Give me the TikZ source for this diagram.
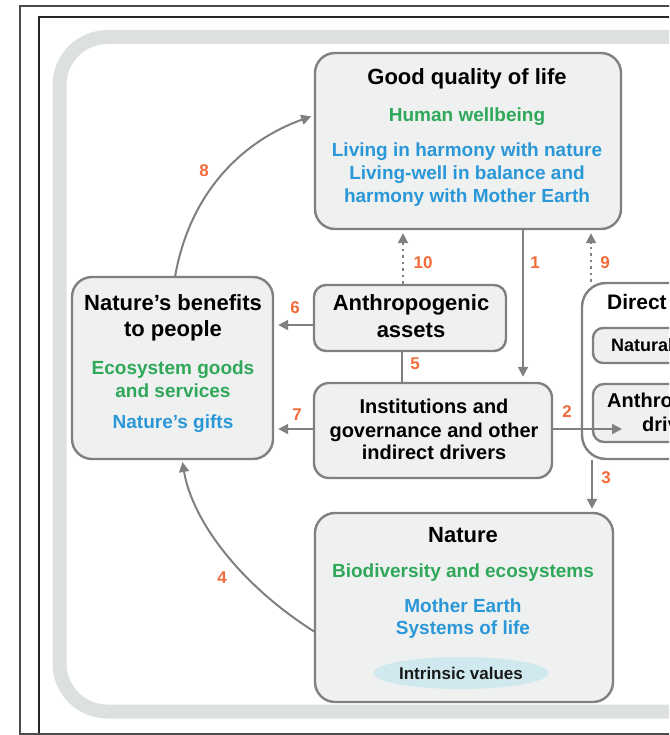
\documentclass[tikz,border=0pt]{standalone}
\usepackage{fontspec}
\setmainfont{Liberation Sans}
\usetikzlibrary{arrows.meta,shapes.geometric}
\definecolor{boxfill}{HTML}{EFF0F0}
\definecolor{boxline}{HTML}{808080}
\definecolor{bandc}{HTML}{DDE0E1}
\definecolor{numc}{HTML}{F26B3A}
\definecolor{greenc}{HTML}{2FA85A}
\definecolor{bluec}{HTML}{2A98D8}
\definecolor{ellc}{HTML}{CFE9EE}
\definecolor{framec}{HTML}{4A4A4A}
\begin{document}
\begin{tikzpicture}[x=1pt,y=-1pt,
  box/.style={draw=boxline, line width=2.4pt, fill=boxfill, inner sep=0pt},
  ttl/.style={font=\fontsize{22}{26}\selectfont\bfseries, text=black, anchor=base, inner sep=0pt},
  grn/.style={font=\fontsize{19}{23}\selectfont\bfseries, text=greenc, anchor=base, inner sep=0pt},
  blu/.style={font=\fontsize{19}{23}\selectfont\bfseries, text=bluec, anchor=base, inner sep=0pt},
  num/.style={font=\fontsize{17}{20}\selectfont\bfseries, text=numc, inner sep=0pt},
  arr/.style={draw=boxline, line width=2pt, -{Triangle[length=10pt,width=10pt]}},
  dotarr/.style={arr, dash pattern=on 2.5pt off 4pt},
  conn/.style={draw=boxline, line width=2pt}]
\useasboundingbox (0,0) rectangle (669,735);
\clip (0,0) rectangle (669,735);
% frames
\draw[framec, line width=1.5pt] (20,740) -- (20,6) -- (700,6);
\draw[black!85, line width=2pt] (39,740) -- (39,17) -- (700,17);
\draw[framec, line width=1.5pt] (20,734) -- (700,734);
% band
\draw[bandc, line width=14pt, rounded corners=48pt] (59.5,37) rectangle (900,711.5);
% boxes
\node[box, rounded corners=20pt, minimum width=306pt, minimum height=176pt] (gq) at (468,141) {};
\node[box, rounded corners=20pt, minimum width=201pt, minimum height=182pt] (nb) at (172.5,368) {};
\node[box, rounded corners=12pt, minimum width=192pt, minimum height=66pt] (aa) at (410,318) {};
\node[box, rounded corners=15pt, minimum width=238pt, minimum height=95pt] (inst) at (433,430.5) {};
\node[box, rounded corners=20pt, minimum width=298pt, minimum height=189pt] (nat) at (464,607.5) {};
\node[box, fill=white, rounded corners=24pt, minimum width=218pt, minimum height=176pt] (dd) at (691,371) {};
\node[box, rounded corners=10pt, minimum width=187pt, minimum height=35pt] (natd) at (686.5,345.5) {};
\node[box, rounded corners=11pt, minimum width=187pt, minimum height=58pt] (anthd) at (686.5,413) {};
% texts: good quality of life
\node[ttl] (t1) at (467,85) {Good quality of life};
\node[grn] (t2) at (467,122) {Human wellbeing};
\node[blu] (t3) at (467,157) {Living in harmony with nature};
\node[blu] (t4) at (467,180) {Living-well in balance and};
\node[blu] (t5) at (467,203) {harmony with Mother Earth};
% nature's benefits
\node[ttl] (t6) at (173,310) {Nature’s benefits};
\node[ttl] (t7) at (173,336) {to people};
\node[grn] (t8) at (173,374) {Ecosystem goods};
\node[grn] (t9) at (173,397) {and services};
\node[blu] (t10) at (173,428) {Nature’s gifts};
% anthropogenic assets
\node[ttl] (t11) at (411,310) {Anthropogenic};
\node[ttl] (t12) at (411,337) {assets};
% institutions
\node[ttl, font=\fontsize{20}{24}\selectfont\bfseries] (t13) at (434,413) {Institutions and};
\node[ttl, font=\fontsize{20}{24}\selectfont\bfseries] (t14) at (434,437) {governance and other};
\node[ttl, font=\fontsize{20}{24}\selectfont\bfseries] (t15) at (434,459) {indirect drivers};
% nature
\node[ttl] (t16) at (463,542) {Nature};
\node[grn] (t17) at (463,577) {Biodiversity and ecosystems};
\node[blu] (t18) at (463,612) {Mother Earth};
\node[blu] (t19) at (463,634) {Systems of life};
\node[ellipse, fill=ellc, minimum width=172pt, minimum height=32pt, inner sep=0pt,
      font=\fontsize{17}{20}\selectfont\bfseries, text=black!90] (iv) at (461,673) {Intrinsic values};
% direct drivers (cut by the picture's right edge)
\node[ttl, anchor=base west, font=\fontsize{21}{25}\selectfont\bfseries] (t20) at (607,309) {Direct drivers};
\node[ttl, anchor=base west, font=\fontsize{18}{21}\selectfont\bfseries] (t21) at (611,351) {Natural drivers};
\node[ttl, anchor=base west, font=\fontsize{20}{24}\selectfont\bfseries] (t22) at (607,407) {Anthropogenic};
\node[ttl, anchor=base west, font=\fontsize{20}{24}\selectfont\bfseries] (t23) at (642,431) {drivers};
% connectors
\coordinate (x10) at (403,0);
\coordinate (x1) at (523,0);
\coordinate (x9) at (591,0);
\coordinate (x5) at (402,0);
\coordinate (x3) at (592,0);
\coordinate (y6) at (0,325);
\coordinate (y7) at (0,429);
\coordinate (e2) at (622,429);
\draw[dotarr, shorten >=3pt] (x10 |- aa.north) -- (x10 |- gq.south);
\draw[arr, shorten >=5pt] (x1 |- gq.south) -- (x1 |- inst.north);
\draw[dotarr, shorten >=3pt] (x9 |- dd.north) -- (x9 |- gq.south);
\draw[conn] (x5 |- aa.south) -- (x5 |- inst.north);
\draw[arr, shorten >=4pt] (aa.west |- y6) -- (nb.east |- y6);
\draw[arr, shorten >=4pt] (inst.west |- y7) -- (nb.east |- y7);
\draw[arr] (inst.east |- y7) -- (e2);
\draw[arr, shorten >=3pt] (x3 |- dd.south) -- (x3 |- nat.north);
\coordinate (s4) at (315,632);
\coordinate (e4) at (182,459);
\draw[arr, shorten >=3pt] (s4) .. controls (240,585) and (192,520) .. (e4);
\coordinate (s8) at (175,277);
\coordinate (e8) at (315,115);
\draw[arr, shorten >=4pt] (s8) .. controls (190,190) and (245,140) .. (e8);
% labels
\node[num] (n8) at (204,171) {8};
\node[num] (n10) at (423,263) {10};
\node[num] (n1) at (535,263) {1};
\node[num] (n9) at (605,263) {9};
\node[num] (n6) at (295,308) {6};
\node[num] (n5) at (415,364) {5};
\node[num] (n7) at (297,415) {7};
\node[num] (n2) at (567,412) {2};
\node[num] (n3) at (606,478) {3};
\node[num] (n4) at (222,578) {4};
\end{tikzpicture}
\end{document}
